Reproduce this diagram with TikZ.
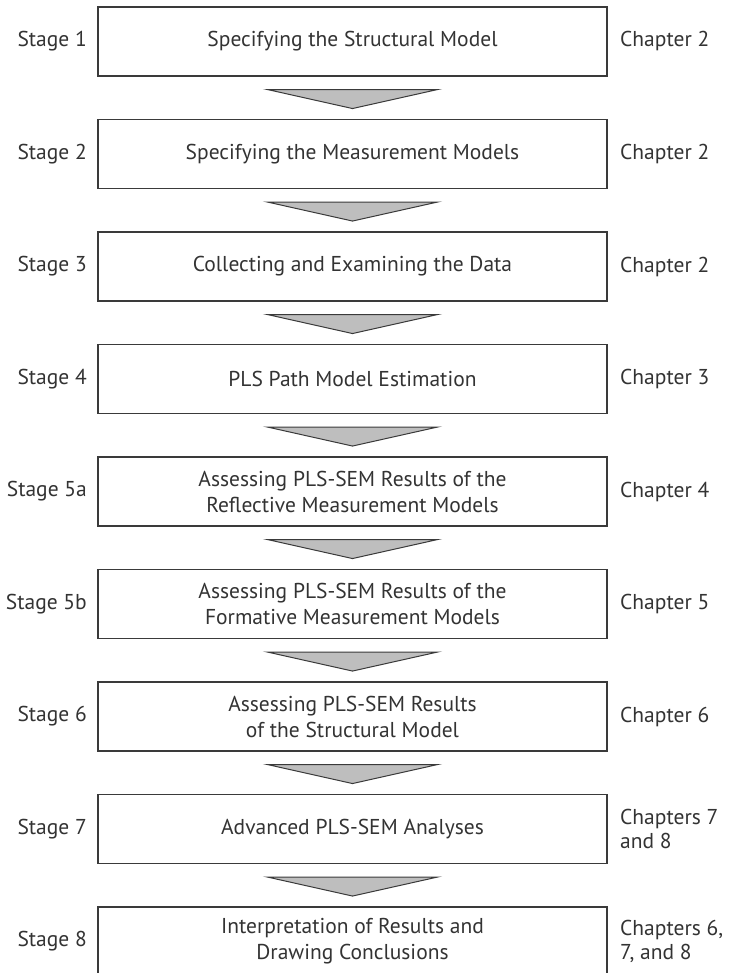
\documentclass[tikz,border=0pt]{standalone}
\usepackage{fontspec}
\setmainfont{PT Sans}
\usetikzlibrary{calc}
\definecolor{linec}{HTML}{3A3A3A}
\definecolor{textc}{HTML}{333333}
\definecolor{arrowfill}{HTML}{BEBEBE}
\begin{document}
\begin{tikzpicture}[x=1pt,y=-1pt,
  stagebox/.style={draw=linec, line width=1.1pt, minimum width=509pt, minimum height=69pt, inner sep=0pt, align=center, text=textc, font=\fontsize{21.5}{26}\selectfont},
  stagelabel/.style={anchor=east, inner sep=0pt, text=textc, font=\fontsize{21.5}{26}\selectfont},
  chaplabel/.style={anchor=west, inner sep=0pt, align=left, text=textc, font=\fontsize{21.5}{24}\selectfont},
  downarrow/.style={draw=linec, line width=1pt, fill=arrowfill, line join=miter}]
\useasboundingbox (0,0) rectangle (731,973);
\node[stagebox] (b1) at (352.5,41.5) {Specifying the Structural Model};
\node[stagebox] (b2) at (352.5,154) {Specifying the Measurement Models};
\node[stagebox] (b3) at (352.5,266.5) {Collecting and Examining the Data};
\node[stagebox] (b4) at (352.5,379) {PLS Path Model Estimation};
\node[stagebox] (b5) at (352.5,491.5) {Assessing PLS-SEM Results of the\\Reflective Measurement Models};
\node[stagebox] (b6) at (352.5,604) {Assessing PLS-SEM Results of the\\Formative Measurement Models};
\node[stagebox] (b7) at (352.5,716.5) {Assessing PLS-SEM Results\\of the Structural Model};
\node[stagebox] (b8) at (352.5,829) {Advanced PLS-SEM Analyses};
\node[stagebox] (b9) at (352.5,941.5) {Interpretation of Results and\\Drawing Conclusions};
\node[stagelabel] (s1) at (87,41.5) {Stage 1};
\node[stagelabel] (s2) at (87,154) {Stage 2};
\node[stagelabel] (s3) at (87,266.5) {Stage 3};
\node[stagelabel] (s4) at (87,379) {Stage 4};
\node[stagelabel] (s5) at (87,491.5) {Stage 5a};
\node[stagelabel] (s6) at (87,604) {Stage 5b};
\node[stagelabel] (s7) at (87,716.5) {Stage 6};
\node[stagelabel] (s8) at (87,829) {Stage 7};
\node[stagelabel] (s9) at (87,941.5) {Stage 8};
\node[chaplabel] (c1) at (620,41.5) {Chapter 2};
\node[chaplabel] (c2) at (620,154) {Chapter 2};
\node[chaplabel] (c3) at (620,266.5) {Chapter 2};
\node[chaplabel] (c4) at (620,379) {Chapter 3};
\node[chaplabel] (c5) at (620,491.5) {Chapter 4};
\node[chaplabel] (c6) at (620,604) {Chapter 5};
\node[chaplabel] (c7) at (620,716.5) {Chapter 6};
\node[chaplabel] (c8) at (620,829) {Chapters 7\\and 8};
\node[chaplabel] (c9) at (620,941.5) {Chapters 6,\\7, and 8};
\foreach \a in {b1,b2,b3,b4,b5,b6,b7,b8}{
  \draw[downarrow] ($(\a.south)+(-85,13)$) -- ($(\a.south)+(85,13)$) -- ($(\a.south)+(0,32)$) -- cycle;
}
\end{tikzpicture}
\end{document}
